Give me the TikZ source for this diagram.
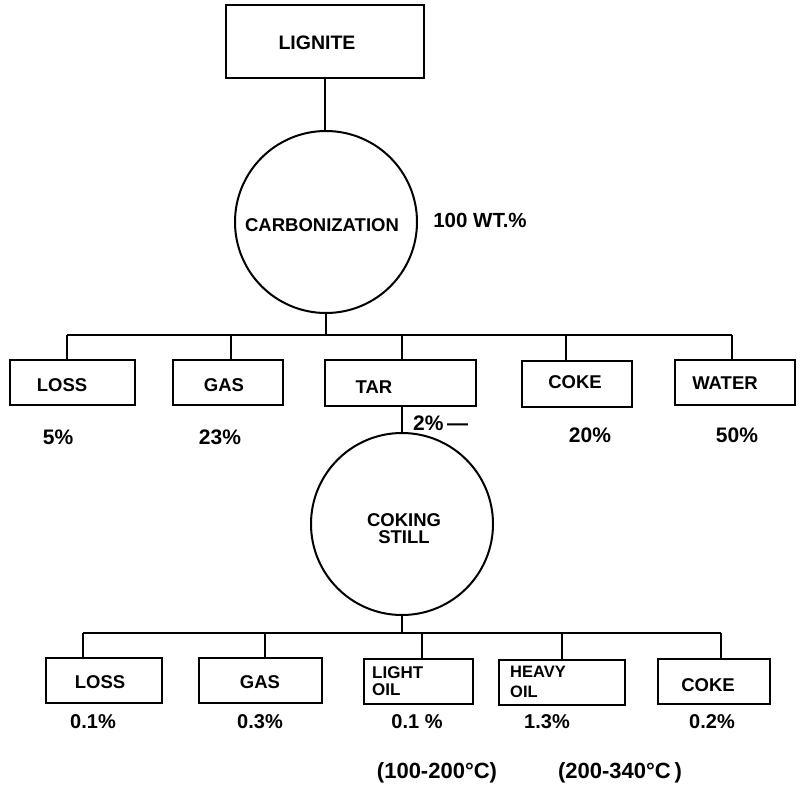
\documentclass[tikz,border=0pt]{standalone}
\usepackage{fontspec}
\setmainfont{Liberation Sans}
\begin{document}
\begin{tikzpicture}[x=1pt,y=-1pt,
  box/.style={draw, line width=2pt, minimum width=#1, minimum height=45pt, inner sep=0pt},
  proc/.style={draw, circle, line width=2pt, minimum size=182pt, inner sep=0pt},
  lbl/.style={font=\bfseries\fontsize{18.5}{20}\selectfont, inner sep=0pt},
  pct/.style={font=\bfseries\fontsize{21}{23}\selectfont, inner sep=0pt},
  pcts/.style={font=\bfseries\fontsize{20}{22}\selectfont, inner sep=0pt},
  conn/.style={line width=1.7pt}]
\useasboundingbox (0,0) rectangle (805,787);

% top
\node[box=198pt, minimum height=73pt] (lignite) at (325,41.5) {};
\node[lbl, font=\bfseries\fontsize{19.5}{21}\selectfont] (tlig) at (317,43) {LIGNITE};
\node[proc] (carb) at (326,222) {};
\node[lbl] (tcarb) at (322,225) {CARBONIZATION};
\node[pct, font=\bfseries\fontsize{20.5}{22}\selectfont] (wt) at (480,220) {100 WT.\%};

% row 1 boxes
\node[box=125pt] (loss1) at (72.5,382.5) {};
\node[box=110pt] (gas1) at (228,382.5) {};
\node[box=151pt, minimum height=46pt] (tar) at (400.5,383) {};
\node[box=110pt, minimum height=46pt] (coke1) at (577,384) {};
\node[box=120pt] (water) at (735,382.5) {};

\node[lbl] (tloss1) at (62,385) {LOSS};
\node[lbl] (tgas1) at (224,385) {GAS};
\node[lbl] (ttar) at (374,387) {TAR};
\node[lbl] (tcoke1) at (575,382) {COKE};
\node[lbl] (twater) at (725,383) {WATER};

\node[pct] (p11) at (58,437) {5\%};
\node[pct] (p12) at (220,437) {23\%};
\node[pct, anchor=west] (p13) at (413,423) {2\%\,—};
\node[pct] (p14) at (590,435) {20\%};
\node[pct] (p15) at (737,435) {50\%};

% connectors row 1
\coordinate (d11) at (67,335);
\coordinate (d12) at (231,335);
\coordinate (d13) at (402,335);
\coordinate (d14) at (566,335);
\coordinate (d15) at (732,335);
\draw[conn] (lignite.south) -- (lignite.south |- carb.north);
\draw[conn] (carb.south) -- (carb.south |- d11);
\draw[conn] (d11) -- (d15);
\draw[conn] (d11) -- (d11 |- loss1.north);
\draw[conn] (d12) -- (d12 |- gas1.north);
\draw[conn] (d13) -- (d13 |- tar.north);
\draw[conn] (d14) -- (d14 |- coke1.north);
\draw[conn] (d15) -- (d15 |- water.north);

% coking still
\node[proc] (still) at (402,524) {};
\node[lbl, align=center] (tstill) at (404,529) {COKING\\[-3pt]STILL};
\draw[conn] (tar.south -| still.north) -- (still.north);

% row 2 boxes
\node[box=116pt] (loss2) at (104,680.5) {};
\node[box=123pt] (gas2) at (260.5,680.5) {};
\node[box=109pt] (light) at (418.5,681) {};
\node[box=126pt] (heavy) at (562,682) {};
\node[box=112pt] (coke2) at (714,681.5) {};

\node[lbl] (tloss2) at (100,682) {LOSS};
\node[lbl] (tgas2) at (260,682) {GAS};
\node[lbl, anchor=west, align=left, font=\bfseries\fontsize{17}{17}\selectfont] (tlight) at (372,681) {LIGHT\\OIL};
\node[lbl, anchor=west, align=left, font=\bfseries\fontsize{16.5}{20}\selectfont] (theavy) at (510,682) {HEAVY\\OIL};
\node[lbl] (tcoke2) at (708,685) {COKE};

\node[pcts] (p21) at (93,722) {0.1\%};
\node[pcts] (p22) at (260,722) {0.3\%};
\node[pcts] (p23) at (417,722) {0.1 \%};
\node[pcts] (p24) at (547,722) {1.3\%};
\node[pcts] (p25) at (712,722) {0.2\%};

\node[pct, font=\bfseries\fontsize{22}{24}\selectfont] (temp1) at (437,773) {(100-200°C)};
\node[pct, font=\bfseries\fontsize{22}{24}\selectfont] (temp2) at (620,773) {(200-340°C\,)};

% connectors row 2
\coordinate (d21) at (83,633);
\coordinate (d22) at (265,633);
\coordinate (d23) at (422,633);
\coordinate (d24) at (562,633);
\coordinate (d25) at (721,633);
\draw[conn] (still.south) -- (still.south |- d21);
\draw[conn] (d21) -- (d25);
\draw[conn] (d21) -- (d21 |- loss2.north);
\draw[conn] (d22) -- (d22 |- gas2.north);
\draw[conn] (d23) -- (d23 |- light.north);
\draw[conn] (d24) -- (d24 |- heavy.north);
\draw[conn] (d25) -- (d25 |- coke2.north);
\end{tikzpicture}
\end{document}
